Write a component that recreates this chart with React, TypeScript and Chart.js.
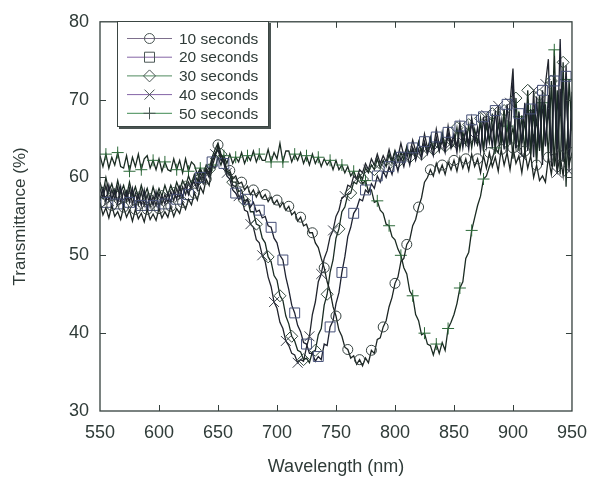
import React, { useEffect, useRef } from "react";
import { Chart, registerables } from "chart.js";

Chart.register(...registerables);

const FONT = "'Liberation Sans', Arial, sans-serif";
const TEXT = "#2f3b38";

const wavelengths = [
  550, 552.5, 555, 557.5, 560, 562.5, 565, 567.5,
  570, 572.5, 575, 577.5, 580, 582.5, 585, 587.5,
  590, 592.5, 595, 597.5, 600, 602.5, 605, 607.5,
  610, 612.5, 615, 617.5, 620, 622.5, 625, 627.5,
  630, 632.5, 635, 637.5, 640, 642.5, 645, 647.5,
  650, 652.5, 655, 657.5, 660, 662.5, 665, 667.5,
  670, 672.5, 675, 677.5, 680, 682.5, 685, 687.5,
  690, 692.5, 695, 697.5, 700, 702.5, 705, 707.5,
  710, 712.5, 715, 717.5, 720, 722.5, 725, 727.5,
  730, 732.5, 735, 737.5, 740, 742.5, 745, 747.5,
  750, 752.5, 755, 757.5, 760, 762.5, 765, 767.5,
  770, 772.5, 775, 777.5, 780, 782.5, 785, 787.5,
  790, 792.5, 795, 797.5, 800, 802.5, 805, 807.5,
  810, 812.5, 815, 817.5, 820, 822.5, 825, 827.5,
  830, 832.5, 835, 837.5, 840, 842.5, 845, 847.5,
  850, 852.5, 855, 857.5, 860, 862.5, 865, 867.5,
  870, 872.5, 875, 877.5, 880, 882.5, 885, 887.5,
  890, 892.5, 895, 897.5, 900, 902.5, 905, 907.5,
  910, 912.5, 915, 917.5, 920, 922.5, 925, 927.5,
  930, 932.5, 935, 937.5, 940, 942.5, 945, 947.5,
  950,
];

const t10 = [
  56.8, 55.2, 56.1, 54.8, 56.4, 55.0, 55.6, 54.6,
  56.2, 54.9, 55.8, 54.4, 55.9, 54.7, 55.4, 54.3,
  55.9, 54.6, 55.3, 54.5, 56.0, 54.8, 55.6, 54.9,
  56.3, 55.0, 56.0, 55.4, 56.8, 55.9, 57.2, 56.5,
  58.0, 57.1, 58.8, 58.0, 59.8, 59.0, 61.4, 62.6,
  64.2, 62.8, 62.2, 61.0, 60.9, 59.8, 60.2, 59.2,
  59.4, 58.4, 58.9, 57.8, 58.4, 57.5, 58.2, 57.3,
  57.8, 56.9, 57.5, 56.6, 57.1, 56.2, 56.8, 55.8,
  56.3, 55.2, 55.6, 54.4, 54.9, 53.8, 54.0, 52.9,
  52.9, 51.6, 51.0, 49.6, 48.4, 46.6, 45.4, 43.4,
  42.2, 40.4, 39.6, 38.2, 37.9, 36.8, 37.1, 36.0,
  36.6, 35.8, 36.8, 36.2, 37.8, 37.4, 39.2, 39.4,
  40.8, 41.6, 43.4, 44.6, 46.4, 47.2, 49.2, 49.6,
  51.4, 52.0, 53.8, 54.6, 56.2, 57.4, 59.4, 60.0,
  61.0, 60.2, 61.8, 60.6, 61.6, 60.4, 62.0, 61.0,
  62.2, 60.8, 62.6, 61.2, 62.4, 60.9, 63.0, 61.4,
  62.4, 60.6, 62.8, 61.2, 63.2, 61.4, 62.6, 60.8,
  63.6, 61.6, 63.2, 61.0, 63.8, 61.8, 62.8, 60.6,
  63.4, 61.2, 62.8, 60.0, 61.6, 59.6, 60.2, 59.4,
  62.6, 60.4, 63.4, 60.8, 62.8, 60.2, 64.4, 61.6,
  63.2,
];

const t20 = [
  57.0, 58.6, 56.8, 59.0, 57.2, 58.4, 56.6, 58.8,
  56.4, 58.2, 56.8, 58.6, 56.2, 57.8, 56.4, 58.4,
  56.0, 57.6, 56.4, 58.2, 56.2, 57.6, 56.6, 58.0,
  56.8, 58.2, 57.2, 58.8, 57.4, 59.0, 57.8, 59.2,
  59.4, 58.4, 60.0, 59.2, 60.8, 60.0, 62.0, 63.0,
  63.8, 62.4, 61.8, 60.2, 59.8, 58.4, 58.0, 57.2,
  57.6, 56.6, 57.2, 56.2, 56.8, 55.6, 55.8, 54.8,
  55.0, 53.8, 53.6, 52.2, 51.6, 50.0, 49.4, 47.2,
  45.6, 43.6, 42.6, 41.0, 40.2, 38.8, 38.6, 37.4,
  37.4, 36.4, 37.0, 36.6, 38.6, 38.4, 40.8, 41.6,
  43.8, 45.2, 47.8, 49.8, 52.4, 53.6, 55.4, 56.0,
  57.2, 57.0, 58.4, 58.0, 59.2, 58.6, 60.2, 59.4,
  60.8, 60.0, 61.4, 60.4, 62.2, 60.8, 62.6, 61.4,
  63.2, 61.6, 63.8, 62.2, 63.6, 62.4, 64.6, 63.0,
  64.2, 62.8, 65.2, 63.4, 64.8, 63.2, 65.8, 63.8,
  65.4, 63.2, 66.6, 63.8, 66.2, 63.6, 67.4, 64.4,
  66.4, 63.4, 67.8, 64.0, 67.2, 63.8, 68.6, 64.6,
  67.4, 63.6, 69.4, 64.2, 72.6, 63.8, 68.2, 64.4,
  69.6, 63.4, 68.8, 62.6, 70.4, 63.8, 71.2, 64.0,
  70.6, 62.8, 72.4, 63.6, 77.8, 62.2, 73.0, 61.6,
  70.4,
];

const t30 = [
  59.4, 58.0, 60.0, 58.2, 59.2, 57.8, 59.6, 58.0,
  59.0, 57.6, 59.4, 57.7, 58.8, 57.4, 59.0, 57.6,
  58.6, 57.2, 58.8, 57.4, 58.6, 57.6, 59.0, 57.8,
  59.0, 58.0, 59.4, 58.4, 59.6, 58.8, 60.2, 59.2,
  60.4, 59.6, 61.0, 60.4, 61.6, 61.0, 62.6, 63.6,
  64.4, 63.0, 62.4, 60.8, 60.6, 59.4, 59.4, 58.2,
  58.4, 57.0, 57.2, 55.6, 55.6, 54.0, 53.8, 52.2,
  51.6, 49.8, 49.2, 47.4, 46.8, 44.8, 44.2, 42.2,
  41.2, 39.6, 39.0, 37.8, 37.6, 36.6, 36.8, 36.2,
  37.6, 37.8, 39.8, 40.6, 43.6, 45.0, 47.8, 49.4,
  52.2, 53.4, 55.6, 56.2, 57.8, 58.0, 59.4, 59.2,
  60.4, 59.8, 61.2, 60.6, 61.6, 61.0, 62.4, 61.2,
  62.2, 61.4, 63.0, 61.8, 63.4, 62.0, 63.2, 62.2,
  64.0, 62.6, 63.8, 62.8, 64.6, 63.0, 64.4, 63.2,
  65.2, 63.6, 64.8, 63.4, 65.8, 64.0, 65.4, 63.8,
  64.2, 66.4, 63.6, 65.8, 64.2, 66.8, 63.8, 66.2,
  64.4, 67.6, 63.6, 66.8, 64.6, 68.2, 63.8, 67.0,
  64.2, 68.6, 63.6, 67.2, 62.4, 70.2, 63.4, 68.0,
  63.2, 71.2, 62.8, 68.8, 61.8, 70.6, 62.8, 69.4,
  62.6, 72.4, 61.4, 71.2, 60.4, 74.8, 58.8, 72.6,
  66.0,
];

const t40 = [
  58.6, 57.4, 59.0, 57.0, 58.4, 57.2, 58.8, 56.8,
  58.2, 56.9, 58.6, 56.6, 58.0, 56.5, 58.2, 56.4,
  57.8, 56.2, 57.6, 56.4, 58.0, 56.6, 57.8, 56.8,
  58.2, 57.0, 58.6, 57.4, 58.8, 57.8, 59.4, 58.6,
  60.0, 59.0, 60.6, 59.8, 61.2, 60.6, 62.2, 63.0,
  63.6, 62.2, 62.0, 60.6, 60.4, 59.0, 58.8, 57.6,
  57.4, 55.8, 55.6, 54.0, 53.6, 52.0, 51.6, 50.0,
  49.2, 47.2, 46.0, 44.0, 43.2, 41.4, 40.6, 39.0,
  38.4, 37.4, 37.2, 36.2, 36.6, 36.4, 38.2, 39.6,
  42.4, 44.0, 46.6, 47.6, 49.6, 50.6, 52.4, 53.2,
  55.0, 55.8, 57.4, 57.6, 59.0, 58.8, 60.2, 59.8,
  61.0, 60.6, 61.8, 61.0, 62.4, 61.6, 63.0, 61.8,
  62.8, 62.0, 63.6, 62.2, 63.4, 62.6, 64.4, 62.8,
  63.8, 63.0, 64.8, 63.4, 64.4, 63.4, 65.6, 63.8,
  64.8, 63.6, 66.2, 64.2, 65.2, 63.8, 66.6, 64.4,
  65.6, 64.0, 67.0, 64.6, 66.0, 64.4, 67.6, 65.0,
  64.2, 67.2, 63.4, 68.0, 64.6, 66.6, 63.8, 69.2,
  64.6, 68.8, 63.2, 69.6, 74.0, 63.8, 68.4, 62.8,
  62.6, 70.0, 63.0, 71.2, 62.4, 70.4, 61.6, 72.0,
  75.2, 61.4, 73.0, 60.6, 71.4, 62.2, 74.4, 60.8,
  71.0,
];

const t50 = [
  62.8, 61.4, 63.0, 61.2, 62.6, 61.6, 63.2, 61.4,
  61.2, 62.8, 60.8, 62.6, 61.4, 63.0, 61.0, 62.4,
  62.8, 61.2, 62.2, 61.0, 62.4, 60.8, 62.0, 61.0,
  60.8, 62.4, 61.0, 62.2, 60.6, 62.4, 60.8, 62.0,
  61.6, 60.4, 61.2, 60.2, 61.0, 60.4, 61.6, 61.2,
  62.6, 61.6, 62.8, 61.8, 63.0, 61.8, 62.6, 62.0,
  63.2, 61.8, 62.8, 62.2, 63.4, 62.0, 63.0, 62.2,
  62.2, 63.6, 62.0, 63.2, 62.4, 64.4, 62.0, 63.4,
  63.4, 62.0, 63.0, 62.2, 63.2, 61.8, 62.8, 61.6,
  63.0, 61.8, 62.6, 61.4, 62.4, 61.6, 62.2, 61.0,
  62.2, 61.0, 61.6, 60.6, 61.4, 60.2, 60.8, 59.8,
  60.2, 59.2, 59.6, 58.2, 58.4, 56.8, 57.0, 55.8,
  55.4, 54.0, 53.8, 52.4, 52.0, 50.8, 50.0, 48.4,
  47.6, 45.4, 44.8, 42.4, 41.6, 39.8, 40.0, 38.6,
  38.4, 37.2, 38.6, 37.4, 38.8, 37.8, 40.6, 41.4,
  42.4, 43.8, 45.8, 46.6, 49.6, 50.4, 53.2, 54.8,
  56.4, 57.6, 59.8, 60.2, 61.4, 62.4, 63.8, 63.2,
  65.6, 64.0, 66.6, 64.6, 66.4, 63.8, 67.8, 64.4,
  67.2, 63.6, 68.6, 64.8, 67.4, 63.4, 69.6, 64.2,
  68.8, 62.8, 76.4, 63.8, 69.4, 62.0, 72.6, 62.4,
  68.4,
];

const seriesLabels = ["10 seconds", "20 seconds", "30 seconds", "40 seconds", "50 seconds"];
const xTicks = [550, 600, 650, 700, 750, 800, 850, 900, 950];
const yTicks = [30, 40, 50, 60, 70, 80];

const seriesValues = [t10, t20, t30, t40, t50];
const lineColors = ["#1d2624", "#1e2230", "#1a2c23", "#22252d", "#1a2b22"];
const markerColors = ["#34403e", "#465078", "#344a3e", "#3d424e", "#2d6a3a"];
const legendLineColors = ["#7d6f8c", "#8464a6", "#4f8a5e", "#8464a6", "#3f8a52"];
const pointStyles = ["circle", "rect", "rectRot", "crossRot", "cross"];
const pointSizes = [5, 7, 6, 7, 6];
const markerPhase = [0, 2, 1, 3, 2];

function drawMarker(ctx: CanvasRenderingContext2D, kind: string, x: number, y: number) {
  ctx.beginPath();
  if (kind === "circle") {
    ctx.arc(x, y, 5, 0, Math.PI * 2);
  } else if (kind === "rect") {
    ctx.rect(x - 5, y - 5, 10, 10);
  } else if (kind === "rectRot") {
    ctx.moveTo(x, y - 6);
    ctx.lineTo(x + 6, y);
    ctx.lineTo(x, y + 6);
    ctx.lineTo(x - 6, y);
    ctx.closePath();
  } else if (kind === "crossRot") {
    ctx.moveTo(x - 5, y - 5);
    ctx.lineTo(x + 5, y + 5);
    ctx.moveTo(x + 5, y - 5);
    ctx.lineTo(x - 5, y + 5);
  } else {
    ctx.moveTo(x, y - 6);
    ctx.lineTo(x, y + 6);
    ctx.moveTo(x - 6, y);
    ctx.lineTo(x + 6, y);
  }
  ctx.stroke();
}

const framePlugin = {
  id: "frameTicks",
  afterDatasetsDraw(chart: any) {
    const { ctx, chartArea } = chart;
    const { left, right, top, bottom } = chartArea;
    const xs = chart.scales.x;
    const ys = chart.scales.y;
    ctx.save();
    ctx.strokeStyle = "#34403d";
    ctx.lineWidth = 1.3;
    ctx.strokeRect(left, top, right - left, bottom - top);
    ctx.lineWidth = 1;
    ctx.beginPath();
    xTicks.slice(1, -1).forEach((v) => {
      const px = Math.round(xs.getPixelForValue(v)) + 0.5;
      ctx.moveTo(px, bottom);
      ctx.lineTo(px, bottom - 6);
      ctx.moveTo(px, top);
      ctx.lineTo(px, top + 6);
    });
    yTicks.slice(1, -1).forEach((v) => {
      const py = Math.round(ys.getPixelForValue(v)) + 0.5;
      ctx.moveTo(left, py);
      ctx.lineTo(left + 6, py);
      ctx.moveTo(right, py);
      ctx.lineTo(right - 6, py);
    });
    ctx.stroke();
    ctx.restore();
  },
};

const legendPlugin = {
  id: "boxLegend",
  afterDraw(chart: any) {
    const ctx: CanvasRenderingContext2D = chart.ctx;
    const L = 117, T = 21, R = 269, B = 127;
    ctx.save();
    ctx.fillStyle = "#4a5452";
    ctx.fillRect(L + 2, T + 2, R - L, B - T);
    ctx.fillStyle = "#ffffff";
    ctx.fillRect(L, T, R - L, B - T);
    ctx.strokeStyle = "#3a4542";
    ctx.lineWidth = 1;
    ctx.strokeRect(L + 0.5, T + 0.5, R - L - 1, B - T - 1);
    ctx.font = `15.5px ${FONT}`;
    ctx.textBaseline = "middle";
    ctx.textAlign = "left";
    seriesLabels.forEach((label, i) => {
      const y = 38.5 + i * 18.7;
      ctx.strokeStyle = legendLineColors[i];
      ctx.lineWidth = 1;
      ctx.beginPath();
      ctx.moveTo(127, y);
      ctx.lineTo(172, y);
      ctx.stroke();
      ctx.strokeStyle = "#4a5654";
      drawMarker(ctx, pointStyles[i], 149.5, y);
      ctx.fillStyle = TEXT;
      ctx.fillText(label, 179, y + 1);
    });
    ctx.restore();
  },
};

export default function App() {
  const ref = useRef<HTMLCanvasElement>(null);

  useEffect(() => {
    document.body.style.margin = "0";
    const canvas = ref.current;
    if (!canvas) return;
    const datasets = seriesValues.map((vals, i) => ({
      label: seriesLabels[i],
      data: wavelengths.map((w, k) => ({ x: w, y: vals[k] })),
      borderColor: lineColors[i],
      borderWidth: 1.3,
      backgroundColor: "transparent",
      pointStyle: pointStyles[i] as any,
      pointRadius: (c: any) => (c.dataIndex % 4 === markerPhase[i] ? pointSizes[i] : 0),
      pointBorderColor: markerColors[i],
      pointBackgroundColor: "transparent",
      pointBorderWidth: 1,
      tension: 0,
      fill: false,
    }));
    const chart = new Chart(canvas, {
      type: "line",
      data: { datasets },
      options: {
        animation: false,
        responsive: false,
        devicePixelRatio: 1,
        layout: { padding: { left: 0, right: 15, top: 12, bottom: 0 } },
        plugins: { legend: { display: false }, tooltip: { enabled: false } },
        scales: {
          x: {
            type: "linear",
            min: 550,
            max: 950,
            grid: { display: false, drawTicks: false },
            border: { display: false },
            afterBuildTicks: (s: any) => {
              s.ticks = xTicks.map((v) => ({ value: v }));
            },
            ticks: {
              color: TEXT,
              font: { family: FONT, size: 18 },
              padding: 11,
              maxRotation: 0,
              autoSkip: false,
            },
            title: {
              display: true,
              text: "Wavelength (nm)",
              color: TEXT,
              font: { family: FONT, size: 18 },
              padding: { top: 0, bottom: 7 },
            },
            afterFit: (s: any) => {
              s.height = 74;
            },
          },
          y: {
            type: "linear",
            min: 30,
            max: 80,
            grid: { display: false, drawTicks: false },
            border: { display: false },
            afterBuildTicks: (s: any) => {
              s.ticks = yTicks.map((v) => ({ value: v }));
            },
            ticks: {
              color: TEXT,
              font: { family: FONT, size: 18 },
              padding: 11,
            },
            title: {
              display: true,
              text: "Transmittance (%)",
              color: TEXT,
              font: { family: FONT, size: 17 },
              padding: { top: 10, bottom: 0 },
            },
            afterFit: (s: any) => {
              s.width = 100;
            },
          },
        },
      },
      plugins: [framePlugin, legendPlugin],
    });
    return () => chart.destroy();
  }, []);

  return (
    <div style={{ width: 598, height: 485, background: "#ffffff" }}>
      <canvas ref={ref} width={598} height={485} style={{ display: "block" }} />
    </div>
  );
}
